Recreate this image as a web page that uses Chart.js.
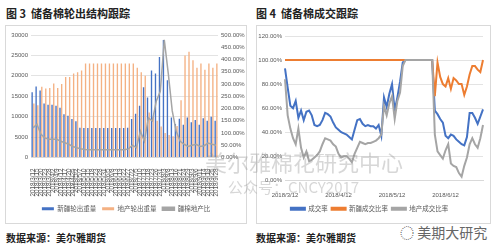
<!DOCTYPE html>
<html>
<head>
<meta charset="utf-8">
<script src="https://cdn.jsdelivr.net/npm/chart.js@4.4.1/dist/chart.umd.min.js"></script>
<style>
body{margin:0;background:#fff;width:500px;height:249px;overflow:hidden;position:relative;font-family:"Noto Sans CJK SC","Noto Sans",sans-serif;}
.title{position:absolute;top:5px;font-size:11px;font-weight:bold;color:#222;}
.box{position:absolute;border:1px solid #d9d9d9;}
.src{position:absolute;top:230px;font-size:10px;font-weight:bold;color:#222;}
.wm{position:absolute;color:rgba(140,140,140,0.35);white-space:nowrap;z-index:5;}
canvas{position:absolute;}
</style>
</head>
<body>
<div class="title" style="left:6px">图 3&nbsp; 储备棉轮出结构跟踪</div>
<div class="title" style="left:256px">图 4&nbsp; 储备棉成交跟踪</div>
<div class="box" style="left:5px;top:25px;width:240px;height:197px"></div>
<div class="box" style="left:256px;top:25px;width:233px;height:197px"></div>
<canvas id="left" width="240" height="197" style="left:5px;top:25px"></canvas>
<canvas id="right" width="233" height="197" style="left:256px;top:25px"></canvas>
<div class="src" style="left:6px">数据来源：美尔雅期货</div>
<div class="src" style="left:256px">数据来源：美尔雅期货</div>
<div class="wm" style="left:205px;top:145px;font-size:22px">美尔雅棉花研究中心</div>
<div class="wm" style="left:228px;top:176px;font-size:15px">公众号：CNCY2017</div>
<div class="wm" style="left:400px;top:222px;font-size:14px;color:#666">◌ 美期大研究</div>
<script>
// 图3 数据
const outDates=["2018/3/12","2018/3/15","2018/3/20","2018/3/23","2018/3/28","2018/4/2","2018/4/9","2018/4/12","2018/4/17","2018/4/20","2018/4/25","2018/5/2","2018/5/7","2018/5/10","2018/5/15","2018/5/18","2018/5/23","2018/5/28","2018/5/31","2018/6/5","2018/6/8","2018/6/13","2018/6/19","2018/6/22","2018/6/27","2018/7/2","2018/7/5","2018/7/10","2018/7/13","2018/7/18","2018/7/23","2018/7/26","2018/7/31","2018/8/3","2018/8/8","2018/8/13","2018/8/16","2018/8/21","2018/8/24","2018/8/29","2018/9/3","2018/9/6","2018/9/11","2018/9/14","2018/9/19","2018/9/25","2018/9/28"];
const xinjiangOut=[16000,17400,16400,13200,12900,12900,12700,12200,10600,10200,9400,8900,7300,7200,7200,7200,7200,7200,7200,7200,7200,7200,7200,7200,7300,9400,10700,12700,17200,14700,21300,20600,24600,28800,18900,9800,8200,9500,8000,9800,8600,9200,8000,9600,9000,10000,9000];
const localOut=[13200,12800,17300,16900,17000,18100,17000,18000,19700,19700,20600,20900,21300,23000,23000,23000,23000,23000,23000,23000,23000,23000,23000,23000,23000,23000,22000,20900,20000,11000,10000,9000,7600,6000,5500,5200,7700,14000,25000,25900,23800,22000,23000,21500,23000,22000,23000];
const ratioOut=[121,136,95,80,74,74,74,66,60,54,45,40,36,33,32,32,32,32,32,32,32,32,32,32,35,50,40,107,66,162,149,231,270,480,343,190,107,66,54,45,50,54,45,48,59,54,50];

// 图4 数据
const dealTicks=["2018/3/12","2018/4/12","2018/5/12","2018/6/12"];
const dealRate=[93,77,62,60,66,52,58,50,57,58,54,46,45,46,50,56,55,53,48,44,42,40,39,38,36,34,42,50,51,47,45,46,45,45,43,46,37,69,61,72,80,58,69,82,98,100,100,100,100,100,100,100,100,100,100,100,58,55,51,48,37,35,38,37,34,32,30,29,36,56,56,52,47,53,59];
const xjRate=[100,100,100,100,100,100,100,100,100,100,100,100,100,100,100,100,100,100,100,100,100,100,100,100,100,100,100,100,100,100,100,100,100,100,100,100,100,100,100,100,100,100,100,100,100,100,100,100,100,100,100,100,100,100,100,100,70,98,86,80,78,85,76,85,83,80,80,71,78,88,95,95,92,90,100];
const localRate=[84,54,43,35,30,43,27,19,24,16,17,19,21,24,30,35,34,33,30,28,22,19,20,20,18,15,22,27,32,31,30,31,31,32,33,35,38,62,54,64,70,51,66,73,95,100,100,100,100,100,100,100,100,100,100,100,38,24,21,18,25,30,14,12,11,6,3,12,19,30,35,30,27,35,46];

const tickFont={size:6,family:"Liberation Sans"};
const legendFont={size:6.5,family:"Noto Sans CJK SC"};
const gridColor="#e3e3e3";
const byIndex=(a,b)=>a.datasetIndex-b.datasetIndex;

new Chart(document.getElementById("left"),{
    data:{
        labels:outDates,
        datasets:[
            {type:"bar",label:"新疆轮出重量",data:xinjiangOut,yAxisID:"y",backgroundColor:"#4472c4",categoryPercentage:0.85,barPercentage:0.8,order:1},
            {type:"bar",label:"地产轮出重量",data:localOut,yAxisID:"y",backgroundColor:"#f4b183",categoryPercentage:0.85,barPercentage:0.8,order:1},
            {type:"line",label:"疆棉地产比",data:ratioOut,yAxisID:"y1",borderColor:"#a5a5a5",backgroundColor:"#a5a5a5",borderWidth:1.5,pointRadius:0,order:0}
        ]
    },
    options:{
        responsive:false,animation:false,
        layout:{padding:{left:2,right:0,top:10,bottom:0}},
        plugins:{
            legend:{position:"bottom",labels:{boxWidth:12,boxHeight:3,font:legendFont,color:"#595959",padding:6,sort:byIndex}},
            tooltip:{enabled:false}
        },
        scales:{
            x:{grid:{display:false},border:{color:"#d9d9d9"},
               ticks:{autoSkip:false,maxRotation:90,minRotation:90,font:{size:6.3,family:"Liberation Sans"},color:"#595959",padding:3}},
            y:{position:"left",min:0,max:30000,ticks:{stepSize:5000,font:tickFont,color:"#595959",callback:v=>String(v)},
               grid:{color:gridColor,drawTicks:false},border:{display:false},afterFit:s=>{s.width=24;}},
            y1:{position:"right",min:0,max:500,ticks:{stepSize:50,font:tickFont,color:"#595959",callback:v=>v.toFixed(2)+"%"},
               grid:{display:false,drawTicks:false},border:{display:false},afterFit:s=>{s.width=27;}}
        }
    }
});

new Chart(document.getElementById("right"),{
    type:"line",
    data:{
        labels:dealRate.map((v,i)=>i),
        datasets:[
            {label:"成交率",data:dealRate,borderColor:"#4472c4",backgroundColor:"#4472c4",borderWidth:2,pointRadius:0,order:2},
            {label:"新疆成交比率",data:xjRate,borderColor:"#ed7d31",backgroundColor:"#ed7d31",borderWidth:2,pointRadius:0,order:1},
            {label:"地产成交比率",data:localRate,borderColor:"#a5a5a5",backgroundColor:"#a5a5a5",borderWidth:2,pointRadius:0,order:0}
        ]
    },
    options:{
        responsive:false,animation:false,
        layout:{padding:{left:0,right:6,top:11,bottom:0}},
        plugins:{
            legend:{position:"bottom",labels:{boxWidth:14,boxHeight:2,font:legendFont,color:"#595959",padding:4,sort:byIndex}},
            tooltip:{enabled:false}
        },
        scales:{
            x:{grid:{display:false},border:{color:"#d9d9d9"},
               ticks:{autoSkip:false,maxRotation:0,font:tickFont,color:"#595959",
                      callback:(v,i)=>i%20===0?dealTicks[i/20]:""}},
            y:{min:0,max:120,ticks:{stepSize:20,font:tickFont,color:"#595959",callback:v=>v.toFixed(2)+"%"},
               grid:{color:gridColor,drawTicks:false},border:{display:false},afterFit:s=>{s.width=29;}}
        }
    }
});
</script>
</body>
</html>
